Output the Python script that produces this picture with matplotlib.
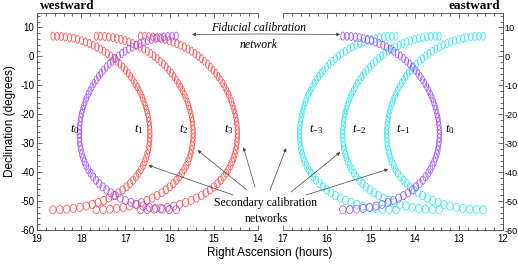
import numpy as np
import matplotlib
matplotlib.use('Agg')
import matplotlib.pyplot as plt
from matplotlib.patches import Ellipse

plt.rcParams['axes.unicode_minus'] = False
plt.rcParams['mathtext.fontset'] = 'custom'
plt.rcParams['mathtext.rm'] = 'Liberation Serif'
plt.rcParams['mathtext.it'] = 'Liberation Serif:italic'

# Shape of one calibration-network track (RA offset from its start, hours; declination, deg)
TRACK_DRA = [0.000, 0.094, 0.189, 0.282, 0.376, 0.468, 0.559, 0.649, 0.738, 0.825, 0.911, 0.995,
             1.076, 1.156, 1.233, 1.308, 1.380, 1.450, 1.518, 1.582, 1.644, 1.703, 1.758, 1.811,
             1.861, 1.908, 1.951, 1.991, 2.028, 2.061, 2.091, 2.117, 2.140, 2.159, 2.173, 2.184,
             2.191, 2.193, 2.191, 2.185, 2.173, 2.157, 2.135, 2.108, 2.075, 2.036, 1.991, 1.939,
             1.881, 1.816, 1.743, 1.663, 1.576, 1.481, 1.378, 1.267, 1.149, 1.024, 0.892, 0.754,
             0.610, 0.462, 0.310, 0.156, 0.000]
TRACK_DEC = [7.00, 6.97, 6.87, 6.71, 6.49, 6.20, 5.86, 5.45, 4.98, 4.46, 3.87, 3.23, 2.54, 1.79,
             1.00, 0.15, -0.74, -1.68, -2.66, -3.68, -4.74, -5.84, -6.97, -8.14, -9.34, -10.56,
             -11.82, -13.09, -14.39, -15.71, -17.05, -18.41, -19.78, -21.16, -22.55, -23.95,
             -25.35, -26.76, -28.16, -29.57, -30.96, -32.36, -33.73, -35.10, -36.45, -37.77,
             -39.08, -40.35, -41.59, -42.80, -43.96, -45.08, -46.14, -47.15, -48.10, -48.98,
             -49.78, -50.51, -51.15, -51.71, -52.17, -52.53, -52.79, -52.95, -53.00]

LEFT_RED_CENTERS = [18.64, 17.66, 16.66]      # t1, t2, t3
LEFT_PURPLE_CENTER = 15.85                    # t0 (westward)
RIGHT_CYAN_CENTERS = [14.43, 13.45, 12.45]    # t-3, t-2, t-1
RIGHT_PURPLE_CENTER = 15.64                   # t0 (eastward)

LEFT_LABELS = ['$t_0$', '$t_1$', '$t_2$', '$t_3$']
LEFT_LABEL_RA = [18.25, 16.80, 15.78, 14.78]
RIGHT_LABELS = ['$t_{-3}$', '$t_{-2}$', '$t_{-1}$', '$t_0$']
RIGHT_LABEL_RA = [16.42, 15.43, 14.43, 13.32]

RED = '#ff4d4d'
PURPLE = '#9f4dff'
CYAN = '#33e8ec'
W0 = 0.088
H0 = 2.8

fig = plt.figure(figsize=(5.18, 2.65), dpi=100)
axL = fig.add_axes([37/518, 1-230/265, 221/518, 217/265])
axR = fig.add_axes([283/518, 1-230/265, 220/518, 217/265])

def draw_track(ax, center, sign, color):
    for dra, d in zip(TRACK_DRA, TRACK_DEC):
        w = W0/np.cos(np.radians(d))
        ax.add_patch(Ellipse((center + sign*dra, d), w, H0, fill=False,
                             edgecolor=color, lw=0.55))

for c in LEFT_RED_CENTERS:
    draw_track(axL, c, -1, RED)
draw_track(axL, LEFT_PURPLE_CENTER, +1, PURPLE)
for c in RIGHT_CYAN_CENTERS:
    draw_track(axR, c, +1, CYAN)
draw_track(axR, RIGHT_PURPLE_CENTER, -1, PURPLE)

for ax, lo, hi in ((axL, 14, 19), (axR, 12, 17)):
    ax.set_yticks(np.arange(-60, 11, 10))
    ax.set_yticks(np.arange(-60, 15, 2), minor=True)
    ax.set_xticks(np.arange(lo, hi + 1, 1))
    ax.set_xticks(np.arange(lo, hi + 0.01, 0.2), minor=True)
    ax.set_xlim(hi, lo)
    ax.set_ylim(-60, 15)
    ax.tick_params(which='both', direction='in', labelsize=7, width=0.5,
                   colors='#333333', labelcolor='black', pad=2)
    ax.tick_params(which='major', length=3.5)
    ax.tick_params(which='minor', length=2)
    for s in ax.spines.values():
        s.set_linewidth(0.6)
        s.set_color('#444444')

axL.spines['right'].set_visible(False)
axL.tick_params(which='both', top=True, right=False)
axR.spines['left'].set_visible(False)
axR.tick_params(which='both', top=True, left=False, labelleft=False, right=True,
                labelright=True)
axR.tick_params(axis='y', pad=1, labelsize=6.6)
axL.tick_params(axis='x', pad=3)
axR.tick_params(axis='x', pad=3)
for ax in (axL, axR):
    for lab in ax.get_xticklabels() + ax.get_yticklabels():
        lab.set_family('Liberation Sans')

fig.text(270/518, 1-253/265, 'Right Ascension (hours)', ha='center', va='center',
         fontsize=8.5, family='Liberation Sans')
fig.text(10/518, 1-121/265, 'Declination (degrees)', ha='center', va='center',
         rotation=90, fontsize=8.5, family='Liberation Sans')
fig.text(40/518, 1-6/265, 'westward', ha='left', va='center', fontsize=9.5,
         family='Liberation Serif', weight='bold')
fig.text(500/518, 1-6/265, 'eastward', ha='right', va='center', fontsize=9.5,
         family='Liberation Serif', weight='bold')

for lab, ra in zip(LEFT_LABELS, LEFT_LABEL_RA):
    axL.text(ra, -25, lab, ha='left', va='center', fontsize=9)
for lab, ra in zip(RIGHT_LABELS, RIGHT_LABEL_RA):
    axR.text(ra, -25, lab, ha='left', va='center', fontsize=9)

fig.text(259/518, 1-28/265, 'Fiducial calibration', ha='center', va='center',
         fontsize=8.5, family='Liberation Serif', style='italic')
fig.text(259/518, 1-45/265, 'network', ha='center', va='center',
         fontsize=8.5, family='Liberation Serif', style='italic')
aprops = dict(arrowstyle='-|>', color='#444444', lw=0.5, mutation_scale=5, shrinkA=0, shrinkB=0)
axL.annotate('', xy=(15.49, 7.6), xycoords=axL.transData,
             xytext=(259/518, 1-34/265), textcoords='figure fraction', arrowprops=aprops)
axR.annotate('', xy=(15.70, 7.6), xycoords=axR.transData,
             xytext=(259/518, 1-34/265), textcoords='figure fraction', arrowprops=aprops)

fig.text(266/518, 1-203/265, 'Secondary calibration', ha='center', va='center',
         fontsize=8.5, family='Liberation Serif')
fig.text(266/518, 1-219/265, 'networks', ha='center', va='center',
         fontsize=8.5, family='Liberation Serif')
SEC_TARGETS_L = [(16.48, -37.6), (15.37, -32.4), (14.33, -31.4)]
SEC_START_L = [(233, 195), (247, 190), (255, 187)]
SEC_TARGETS_R = [(16.93, -31.7), (15.70, -33.1), (14.61, -39.0)]
SEC_START_R = [(270, 190), (291, 192), (306, 195)]
for (ra, d), (px, py) in zip(SEC_TARGETS_L, SEC_START_L):
    axL.annotate('', xy=(ra, d), xycoords=axL.transData,
                 xytext=(px/518, 1-py/265), textcoords='figure fraction', arrowprops=aprops)
for (ra, d), (px, py) in zip(SEC_TARGETS_R, SEC_START_R):
    axR.annotate('', xy=(ra, d), xycoords=axR.transData,
                 xytext=(px/518, 1-py/265), textcoords='figure fraction', arrowprops=aprops)

fig.savefig('out.png', dpi=100)
